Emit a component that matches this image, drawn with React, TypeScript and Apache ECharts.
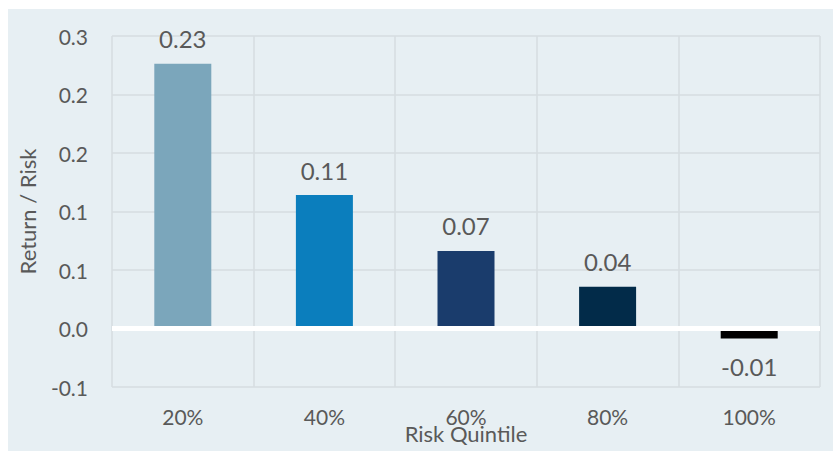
import React, { useEffect, useRef } from "react";
import * as echarts from "echarts";

const categories = ["20%", "40%", "60%", "80%", "100%"];
const returnRisk = [0.2263, 0.114, 0.0663, 0.0356, -0.0086];
const barColors = ["#7BA6BB", "#0B7EBD", "#1A3C6C", "#022B49", "#000000"];
const yTickLabels = ["-0.1", "0.0", "0.1", "0.1", "0.2", "0.2", "0.3"];

const FONT = "Lato, 'Open Sans', sans-serif";
const TXT = "#595959";

export default function App() {
  const ref = useRef<HTMLDivElement>(null);
  useEffect(() => {
    if (!ref.current) return;
    const chart = echarts.init(ref.current, null, { renderer: "svg" });
    chart.setOption({
      animation: false,
      backgroundColor: "#E7EFF3",
      grid: { left: 104, right: 13, top: 27, bottom: 64, outerBoundsMode: "none", containLabel: false },
      xAxis: {
        type: "category",
        data: categories,
        axisLine: { show: false, onZero: false },
        axisTick: { show: false },
        axisLabel: { color: TXT, fontSize: 21, fontFamily: FONT, margin: 19 },
        splitLine: { show: true, lineStyle: { color: "#D6DDE1", width: 1.5 } },
        name: "Risk Quintile",
        nameLocation: "middle",
        nameGap: 35,
        nameMoveOverlap: false,
        nameTextStyle: { color: TXT, fontSize: 22, fontFamily: FONT },
      },
      yAxis: {
        type: "value",
        min: -0.05,
        max: 0.25,
        interval: 0.05,
        axisLine: { show: false },
        axisTick: { show: false },
        axisLabel: {
          color: TXT,
          fontSize: 21,
          fontFamily: FONT,
          margin: 24,
          formatter: (_v: number, i: number) => yTickLabels[i],
        },
        splitLine: { lineStyle: { color: "#D6DDE1", width: 1.5 } },
        name: "Return / Risk",
        nameLocation: "middle",
        nameGap: 74,
        nameMoveOverlap: false,
        nameTextStyle: { color: TXT, fontSize: 22, fontFamily: FONT },
      },
      series: [
        {
          type: "bar",
          barWidth: 57,
          data: returnRisk.map((v, i) => ({
            value: v,
            itemStyle: { color: barColors[i] },
            label: { position: v < 0 ? "bottom" : "top", distance: v < 0 ? 16 : 13 },
          })),
          label: {
            show: true,
            color: TXT,
            fontSize: 24,
            fontFamily: FONT,
            formatter: (p: any) => Number(p.value).toFixed(2),
          },
          markLine: {
            silent: true,
            symbol: "none",
            label: { show: false },
            lineStyle: { color: "#FFFFFF", width: 5, type: "solid" },
            data: [{ yAxis: 0 }],
          },
        },
      ],
    });
    return () => chart.dispose();
  }, []);
  return (
    <div
      ref={ref}
      style={{ position: "fixed", left: 8, top: 9, width: 825, height: 442 }}
    />
  );
}
